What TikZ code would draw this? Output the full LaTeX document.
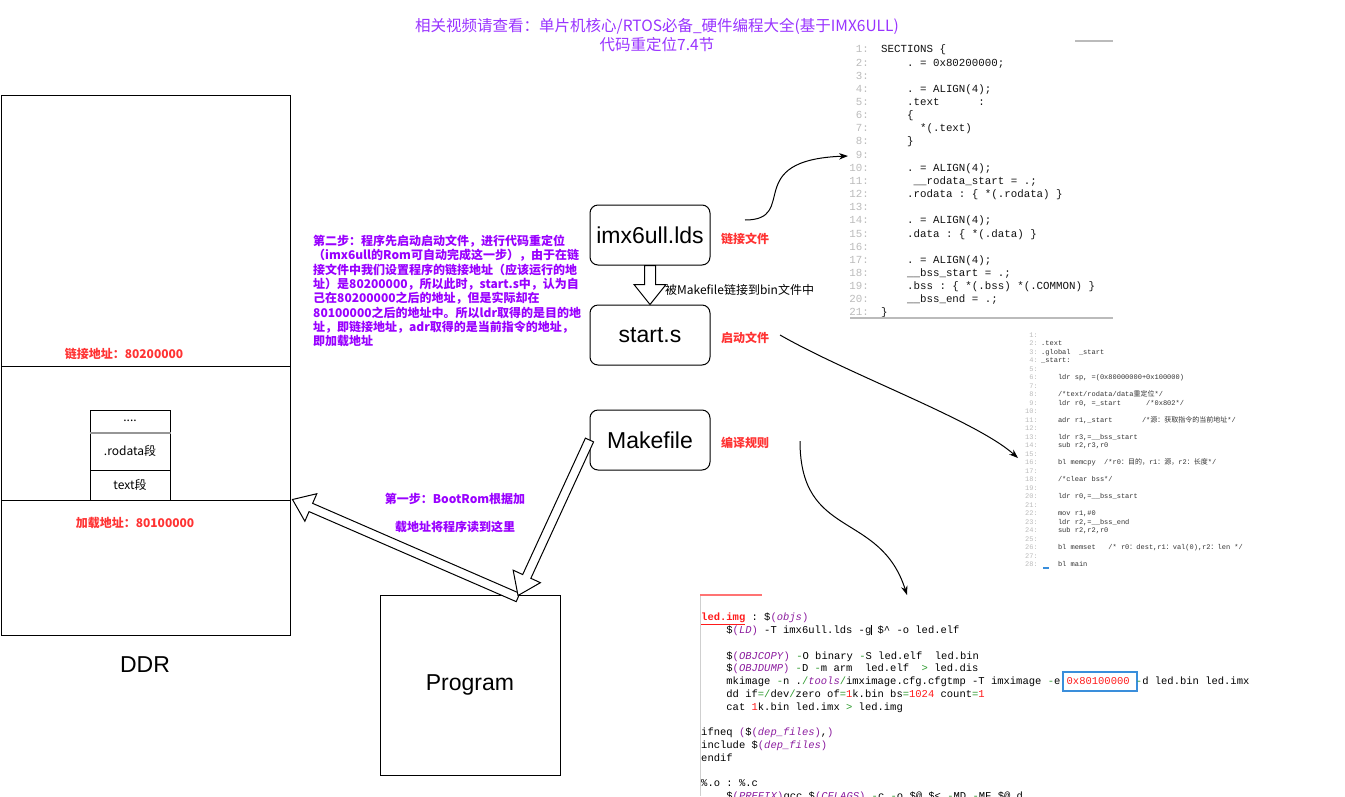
\documentclass[tikz,border=0pt]{standalone}
\usepackage{fontspec}
\setmainfont{Noto Sans CJK SC}
\setmonofont{Liberation Mono}
\newfontfamily\latfont{Liberation Sans}
\newfontfamily\cjkfont{Noto Sans CJK SC}
\usepackage{xcolor}
\usetikzlibrary{arrows.meta,calc}

\definecolor{titleviolet}{HTML}{9933FF}
\definecolor{stepviolet}{HTML}{9900FF}
\definecolor{notered}{HTML}{FF3333}
\definecolor{numgray}{HTML}{BBBBBB}
\definecolor{codedark}{HTML}{111111}
\definecolor{asmdark}{HTML}{333333}
\definecolor{mkgreen}{HTML}{2E9A2E}
\definecolor{mkpurple}{HTML}{8B1C9E}
\definecolor{mkred}{HTML}{FF1A1A}
\definecolor{mkblue}{HTML}{3A8EDB}

\newcommand{\fsz}[1]{\fontsize{#1}{#1}\selectfont}
\newcommand{\mkg}[1]{\textcolor{mkgreen}{#1}}
\newcommand{\mkp}[1]{\textcolor{mkpurple}{#1}}
\newcommand{\mkr}[1]{\textcolor{mkred}{#1}}
\newcommand{\mkcur}{\rlap{\rule[-1.5pt]{0.9pt}{10pt}}}
% hollow block arrow: tail, tip, shaft half width, head half width, head length
\newcommand{\blockarrow}[5]{%
  \coordinate (ba-h) at ($(#2)!#5!(#1)$);
  \draw[blockline] ($(#1)!#3!90:(#2)$) -- ($(ba-h)!#3!90:(#2)$) -- ($(ba-h)!#4!90:(#2)$)
    -- (#2) -- ($(ba-h)!#4!-90:(#2)$) -- ($(ba-h)!#3!-90:(#2)$) -- ($(#1)!#3!-90:(#2)$) -- cycle;}

\begin{document}
\begin{tikzpicture}[x=1pt, y=-1pt,
    >={Stealth[length=9pt,width=6.5pt]},
    ddrcell/.style ={draw, line width=1pt, minimum width=289pt, inner sep=0pt},
    segcell/.style ={draw, line width=1pt, minimum width=80pt, inner sep=0pt, font=\fsz{12}},
    filebox/.style ={draw, line width=1pt, rounded corners=8pt, minimum width=120pt,
                     minimum height=60pt, font=\latfont\fsz{23}},
    addrlbl/.style ={text=notered, font=\bfseries\fsz{12}},
    filelbl/.style ={text=notered, font=\bfseries\fsz{12}, anchor=west, inner sep=0pt},
    steptxt/.style ={text=stepviolet, font=\bfseries\fontsize{12}{14.3}\selectfont,
                     align=left, inner sep=0pt},
    blockline/.style={draw=black, line width=1pt, fill=white, line join=miter},
    bendflow/.style ={->, line width=1pt},
    ldsnum/.style  ={anchor=base east, inner sep=0pt, text=numgray, font=\ttfamily\fsz{10.8}},
    ldsline/.style ={anchor=base west, inner sep=0pt, text=codedark, font=\ttfamily\fsz{10.8}},
    asmnum/.style  ={anchor=base east, inner sep=0pt, text=numgray, font=\ttfamily\fsz{7}},
    asmline/.style ={anchor=base west, inner sep=0pt, text=asmdark, font=\ttfamily\fsz{7}},
    mkline/.style  ={anchor=base west, inner sep=0pt, text=black, font=\ttfamily\fsz{10.5}}
]
\useasboundingbox (0,0) rectangle (1345,796);

% --- title ---
\node[text=titleviolet, font=\fontsize{15.5}{19}\selectfont, align=center] (title) at (657,35)
  {相关视频请查看：单片机核心/RTOS必备\_硬件编程大全(基于IMX6ULL)\\代码重定位7.4节};

% --- DDR memory column ---
\node[ddrcell, minimum height=271pt] (ddrtop) at (145.5,230.5) {};
\node[ddrcell, minimum height=134pt] (ddrmid) at (145.5,433) {};
\node[ddrcell, minimum height=135pt] (ddrbot) at (145.5,567.5) {};
\node[addrlbl] (linkaddr) at (124,354) {链接地址：80200000};
\node[addrlbl] (loadaddr) at (135,523) {加载地址：80100000};
\node[font=\latfont\fsz{23}] (ddrname) at (145,665) {DDR};

\node[segcell, minimum height=22pt] (segdots) at (130,421) {....};
\node[segcell, minimum height=38pt] (segro)   at (130,451) {.rodata段};
\node[segcell, minimum height=30pt] (segtext) at (130,485) {text段};
\draw[numgray!80!black, line width=2pt] (segdots.south west) -- (segdots.south east);

% --- files ---
\node[filebox] (lds)    at (650,235) {imx6ull.lds};
\node[filebox] (starts) at (650,335) {start.s};
\node[filebox] (make)   at (650,440) {Makefile};
\node[filelbl] (ldstag)   at (721,239) {链接文件};
\node[filelbl] (starttag) at (721,338) {启动文件};
\node[filelbl] (maketag)  at (721,443) {编译规则};
\node[anchor=west, inner sep=0pt, font=\fsz{12}] (linknote) at (665,290) {被Makefile链接到bin文件中};

% --- program ---
\node[draw, line width=1pt, minimum width=180pt, minimum height=180pt,
      font=\latfont\fsz{23}] (prog) at (470,685) {Program};

% --- notes ---
\node[steptxt, anchor=north west] (step2) at (313,235)
  {第二步：程序先启动启动文件，进行代码重定位\\
   （imx6ull的Rom可自动完成这一步），由于在链\\
   接文件中我们设置程序的链接地址（应该运行的地\\
   址）是80200000，所以此时，start.s中，认为自\\
   己在80200000之后的地址，但是实际却在\\
   80100000之后的地址中。所以ldr取得的是目的地\\
   址，即链接地址，adr取得的是当前指令的地址，\\
   即加载地址};
\node[text=stepviolet, font=\bfseries\fontsize{12}{28}\selectfont, align=center] (step1) at (455,513)
  {第一步：BootRom根据加\\载地址将程序读到这里};

% --- block arrows ---
\blockarrow{lds.south}{starts.north}{5.5pt}{16pt}{20pt}
\coordinate (progtail) at ($(prog.north)+(48,3)$);
\coordinate (progin)   at ($(prog.north)+(48,1)$);
\coordinate (ddrin)    at ($(ddrbot.north east)+(2,0)$);
\blockarrow{progtail}{ddrin}{4.5pt}{15pt}{20pt}
\blockarrow{make.west}{progin}{4.5pt}{15pt}{21pt}

% --- linker script listing ---
\draw[numgray, line width=1.2pt] (1075,41) -- (1113,41);
\foreach \row [count=\i] in {SECTIONS \{, ~~~~. = 0x80200000;, {}, ~~~~. = ALIGN(4);,
    ~~~~.text~~~~~~:, ~~~~\{, ~~~~~~*(.text), ~~~~\}, {}, ~~~~. = ALIGN(4);,
    ~~~~~\_\_rodata\_start = .;, ~~~~.rodata : \{ *(.rodata) \}, {}, ~~~~. = ALIGN(4);,
    ~~~~.data : \{ *(.data) \}, {}, ~~~~. = ALIGN(4);, ~~~~\_\_bss\_start = .;,
    ~~~~.bss : \{ *(.bss) *(.COMMON) \}, ~~~~\_\_bss\_end = .;, \}} {
  \node[ldsnum]  (ldsnum\i) at (869,{52.9+13.15*(\i-1)}) {\i:};
  \node[ldsline] (ldsrow\i) at (881,{52.9+13.15*(\i-1)}) {\row};
}
\draw[numgray, line width=2pt] (850,318) -- (1113,318);

% --- start.s listing ---
\foreach \row [count=\i] in {{}, .text, .global~~\_start, \_start:, {},
    {~~~~ldr sp, =(0x80000000+0x100000)}, {},
    ~~~~/*text/rodata/data{\cjkfont 重定位}*/,
    {~~~~ldr r0, =\_start~~~~~~/*0x802*/}, {},
    {~~~~adr r1,\_start~~~~~~~/*{\cjkfont 源：获取指令的当前地址}*/}, {},
    {~~~~ldr r3,=\_\_bss\_start}, {~~~~sub r2,r3,r0}, {},
    {~~~~bl memcpy~~/*r0{\cjkfont ：目的，}r1{\cjkfont ：源，}r2{\cjkfont ：长度}*/}, {},
    ~~~~/*clear bss*/, {}, {~~~~ldr r0,=\_\_bss\_start}, {},
    {~~~~mov r1,\#0}, {~~~~ldr r2,=\_\_bss\_end}, {~~~~sub r2,r2,r0}, {},
    {~~~~bl memset~~~/* r0{\cjkfont ：}dest,r1{\cjkfont ：}val(0),r2{\cjkfont ：}len */}, {},
    ~~~~bl main} {
  \node[asmnum]  (asmnum\i) at (1038,{337+8.5*(\i-1)}) {\i:};
  \node[asmline] (asmrow\i) at (1041,{337+8.5*(\i-1)}) {\row};
}
\draw[mkblue, line width=2pt] (1043,568) -- (1049,568);

% --- Makefile listing ---
\begin{scope}
\clip (690,585) rectangle (1345,796);
\draw[red!55, line width=1.5pt] (700,595) -- (762,595);
\draw[numgray!70, line width=1pt] (700,596) -- (700,796);
\node[draw=mkblue, line width=2.5pt, minimum width=74pt, minimum height=19pt] (hexbox) at (1100,681.5) {};
\node[mkline] (mk0)  at (701,620.8) {\mkr{\textbf{\underline{led.img}}} : \$\mkp{(\textit{objs})}};
\node[mkline] (mk1)  at (701,633.6) {~~~~\$\mkp{(\textit{LD})} -T imx6ull.lds -g\mkcur{} \$\textasciicircum{} -o led.elf};
\node[mkline] (mk3)  at (701,659.1) {~~~~\$\mkp{(\textit{OBJCOPY})} \mkg{-}O binary \mkg{-}S led.elf~~led.bin};
\node[mkline] (mk4)  at (701,671.8) {~~~~\$\mkp{(\textit{OBJDUMP})} \mkg{-}D \mkg{-}m arm~~led.elf~~\mkg{>} led.dis};
\node[mkline] (mk5)  at (701,684.6) {~~~~mkimage \mkg{-}n .\mkg{/}\mkp{\textit{tools}}\mkg{/}imximage.cfg.cfgtmp -T imximage \mkg{-}e \mkr{0x80100000} \mkg{-}d led.bin led.imx};
\node[mkline] (mk6)  at (701,697.3) {~~~~dd if\mkg{=/}dev\mkg{/}zero of\mkg{=}\mkr{1}k.bin bs\mkg{=}\mkr{1024} count\mkg{=}\mkr{1}};
\node[mkline] (mk7)  at (701,710.1) {~~~~cat \mkr{1}k.bin led.imx \mkg{>} led.img};
\node[mkline] (mk9)  at (701,735.6) {ifneq \mkp{(}\$\mkp{(\textit{dep\_files})},\mkp{)}};
\node[mkline] (mk10) at (701,748.3) {include \$\mkp{(\textit{dep\_files})}};
\node[mkline] (mk11) at (701,761.1) {endif};
\node[mkline] (mk13) at (701,786.6) {\%.o : \%.c};
\node[mkline] (mk14) at (701,799.3) {~~~~\$\mkp{(\textit{PREFIX})}gcc \$\mkp{(\textit{CFLAGS})} \mkg{-}c \mkg{-}o \$@ \$< \mkg{-}MD \mkg{-}MF \$@.d};
\end{scope}

% --- curved pointers to the listings ---
\coordinate (ldsout)   at (745,220);
\coordinate (ldsin)    at (848,156);
\coordinate (startout) at (780,335);
\coordinate (startin)  at (1018,458);
\coordinate (makeout)  at (800,441);
\coordinate (makein)   at (907,595);
\draw[bendflow] (ldsout) .. controls (800,220) and (740,160) .. (ldsin);
\draw[bendflow] (startout) .. controls (850,375) and (975,420) .. (startin);
\draw[bendflow] (makeout) .. controls (800,540) and (880,510) .. (makein);

\end{tikzpicture}
\end{document}
